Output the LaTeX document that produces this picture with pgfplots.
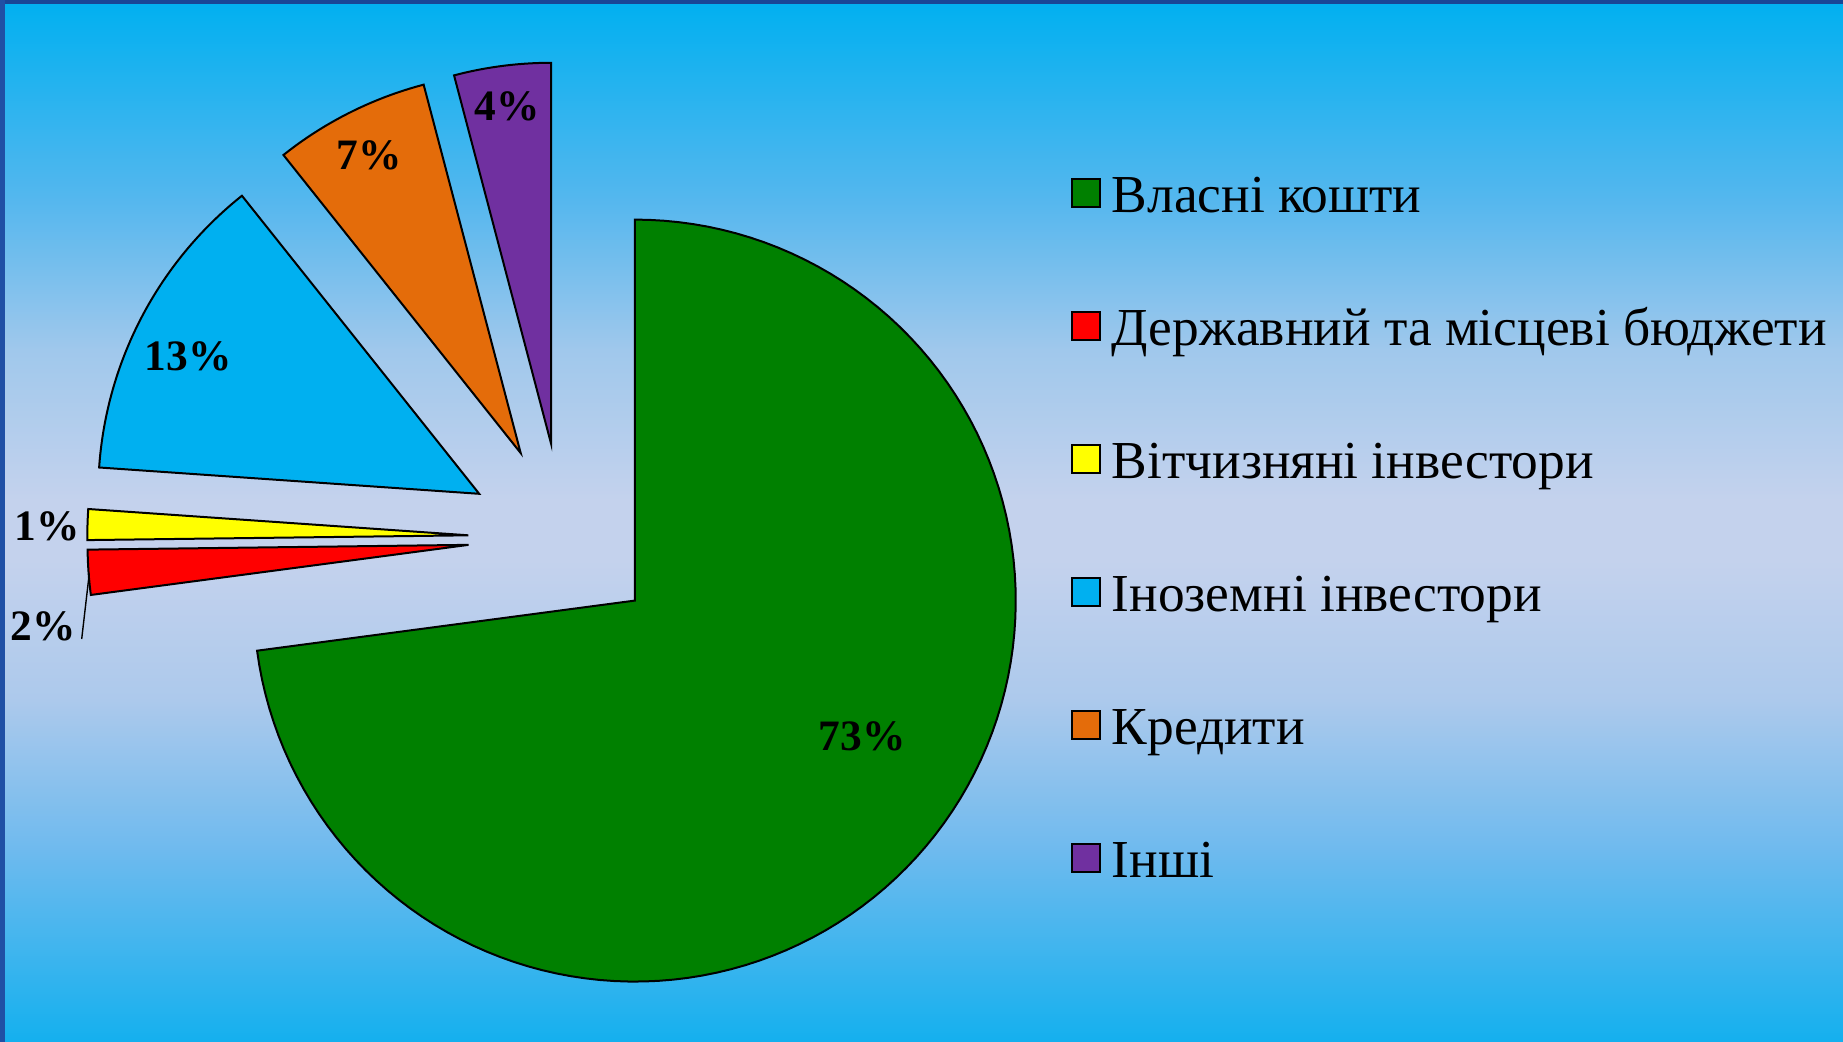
\documentclass[border=0pt]{standalone}
\usepackage{pgfplots}
\pgfplotsset{compat=1.18}
\usepackage{fontspec}
\setmainfont{Liberation Serif}
\definecolor{bgA}{RGB}{0,176,240}
\definecolor{bgB}{RGB}{85,183,238}
\definecolor{bgC}{RGB}{160,200,236}
\definecolor{bgD}{RGB}{196,210,237}
\definecolor{bgE}{RGB}{172,201,236}
\definecolor{bgF}{RGB}{110,186,238}
\definecolor{bgG}{RGB}{20,176,238}
\definecolor{bordtop}{RGB}{25,70,150}
\definecolor{bordleft}{RGB}{32,80,165}
\definecolor{cgreen}{RGB}{0,128,0}
\definecolor{cred}{RGB}{255,0,0}
\definecolor{cyellow}{RGB}{255,255,0}
\definecolor{cblue}{RGB}{0,176,240}
\definecolor{corange}{RGB}{228,108,10}
\definecolor{cpurple}{RGB}{112,48,160}
\tikzset{lab/.style={font=\bfseries\fontsize{21.7}{26}\selectfont, inner sep=0pt, anchor=base}}
% geometry (in reference pixels)
\def\cx{563.3}\def\cy{538}\def\R{381}\def\ex{95}
% data: shares in percent
\def\vA{72.9}\def\vB{1.9}\def\vC{1.3}\def\vD{13.2}\def\vE{6.6}\def\vF{4.1}
\pgfmathsetmacro\sA{90}
\pgfmathsetmacro\eA{\sA-3.6*\vA}
\pgfmathsetmacro\eB{\eA-3.6*\vB}
\pgfmathsetmacro\eC{\eB-3.6*\vC}
\pgfmathsetmacro\eD{\eC-3.6*\vD}
\pgfmathsetmacro\eE{\eD-3.6*\vE}
\pgfmathsetmacro\eF{\eE-3.6*\vF}
\pgfmathsetmacro\xA{\cx+\ex*cos((\sA+\eA)/2)}\pgfmathsetmacro\yA{\cy-\ex*sin((\sA+\eA)/2)}
\pgfmathsetmacro\xB{\cx+\ex*cos((\eA+\eB)/2)}\pgfmathsetmacro\yB{\cy-\ex*sin((\eA+\eB)/2)}
\pgfmathsetmacro\xC{\cx+\ex*cos((\eB+\eC)/2)}\pgfmathsetmacro\yC{\cy-\ex*sin((\eB+\eC)/2)}
\pgfmathsetmacro\xD{\cx+\ex*cos((\eC+\eD)/2)}\pgfmathsetmacro\yD{\cy-\ex*sin((\eC+\eD)/2)}
\pgfmathsetmacro\xE{\cx+\ex*cos((\eD+\eE)/2)}\pgfmathsetmacro\yE{\cy-\ex*sin((\eD+\eE)/2)}
\pgfmathsetmacro\xF{\cx+\ex*cos((\eE+\eF)/2)}\pgfmathsetmacro\yF{\cy-\ex*sin((\eE+\eF)/2)}
\begin{document}
\begin{tikzpicture}
\begin{axis}[
  x=0.5pt, y=0.5pt,
  xmin=0, xmax=1843, ymin=0, ymax=1042,
  y dir=reverse,
  hide axis, clip=false,
  samples=120,
  legend cell align=left,
  legend image code/.code={\draw[#1,line width=0.8pt] (0pt,-4pt) rectangle (14pt,10pt);},
  legend style={at={(axis cs:1071,174)}, anchor=north west, draw=none, fill=none,
    inner sep=0pt, outer sep=0pt, row sep=41.5pt, column sep=5.6pt,
    font=\fontsize{26.7}{32}\selectfont,
    nodes={inner sep=0pt, text height=19pt, text depth=6pt}},
]
\shade[top color=bgA, bottom color=bgB] (axis cs:0,0) rectangle (axis cs:1843,201);
\shade[top color=bgB, bottom color=bgC] (axis cs:0,200) rectangle (axis cs:1843,351);
\shade[top color=bgC, bottom color=bgD] (axis cs:0,350) rectangle (axis cs:1843,501);
\fill[bgD] (axis cs:0,500) rectangle (axis cs:1843,561);
\shade[top color=bgD, bottom color=bgE] (axis cs:0,560) rectangle (axis cs:1843,701);
\shade[top color=bgE, bottom color=bgF] (axis cs:0,700) rectangle (axis cs:1843,851);
\shade[top color=bgF, bottom color=bgG] (axis cs:0,850) rectangle (axis cs:1843,1042);
\fill[bordtop] (axis cs:0,0) rectangle (axis cs:1843,4);
\fill[bordleft] (axis cs:0,0) rectangle (axis cs:4.5,1042);

\addplot[fill=cgreen, draw=black, line width=1pt, domain=\eA:\sA] ({\xA+\R*cos(x)},{\yA-\R*sin(x)}) -- (axis cs:\xA,\yA) -- cycle;
\addlegendentry{Власні кошти}
\addplot[fill=cred, draw=black, line width=1pt, domain=\eB:\eA] ({\xB+\R*cos(x)},{\yB-\R*sin(x)}) -- (axis cs:\xB,\yB) -- cycle;
\addlegendentry{Державний та місцеві бюджети}
\addplot[fill=cyellow, draw=black, line width=1pt, domain=\eC:\eB] ({\xC+\R*cos(x)},{\yC-\R*sin(x)}) -- (axis cs:\xC,\yC) -- cycle;
\addlegendentry{Вітчизняні інвестори}
\addplot[fill=cblue, draw=black, line width=1pt, domain=\eD:\eC] ({\xD+\R*cos(x)},{\yD-\R*sin(x)}) -- (axis cs:\xD,\yD) -- cycle;
\addlegendentry{Іноземні інвестори}
\addplot[fill=corange, draw=black, line width=1pt, domain=\eE:\eD] ({\xE+\R*cos(x)},{\yE-\R*sin(x)}) -- (axis cs:\xE,\yE) -- cycle;
\addlegendentry{Кредити}
\addplot[fill=cpurple, draw=black, line width=1pt, domain=\eF:\eE] ({\xF+\R*cos(x)},{\yF-\R*sin(x)}) -- (axis cs:\xF,\yF) -- cycle;
\addlegendentry{Інші}

\draw[black, line width=0.7pt] (axis cs:81.7,639) -- (axis cs:89.3,573.3);
\node[lab] at (axis cs:862,751) {73\%};
\node[lab] at (axis cs:43,640.7) {2\%};
\node[lab] at (axis cs:47,541) {1\%};
\node[lab] at (axis cs:188,371) {13\%};
\node[lab] at (axis cs:369,170) {7\%};
\node[lab] at (axis cs:507,120.7) {4\%};
\end{axis}
\end{tikzpicture}
\end{document}
